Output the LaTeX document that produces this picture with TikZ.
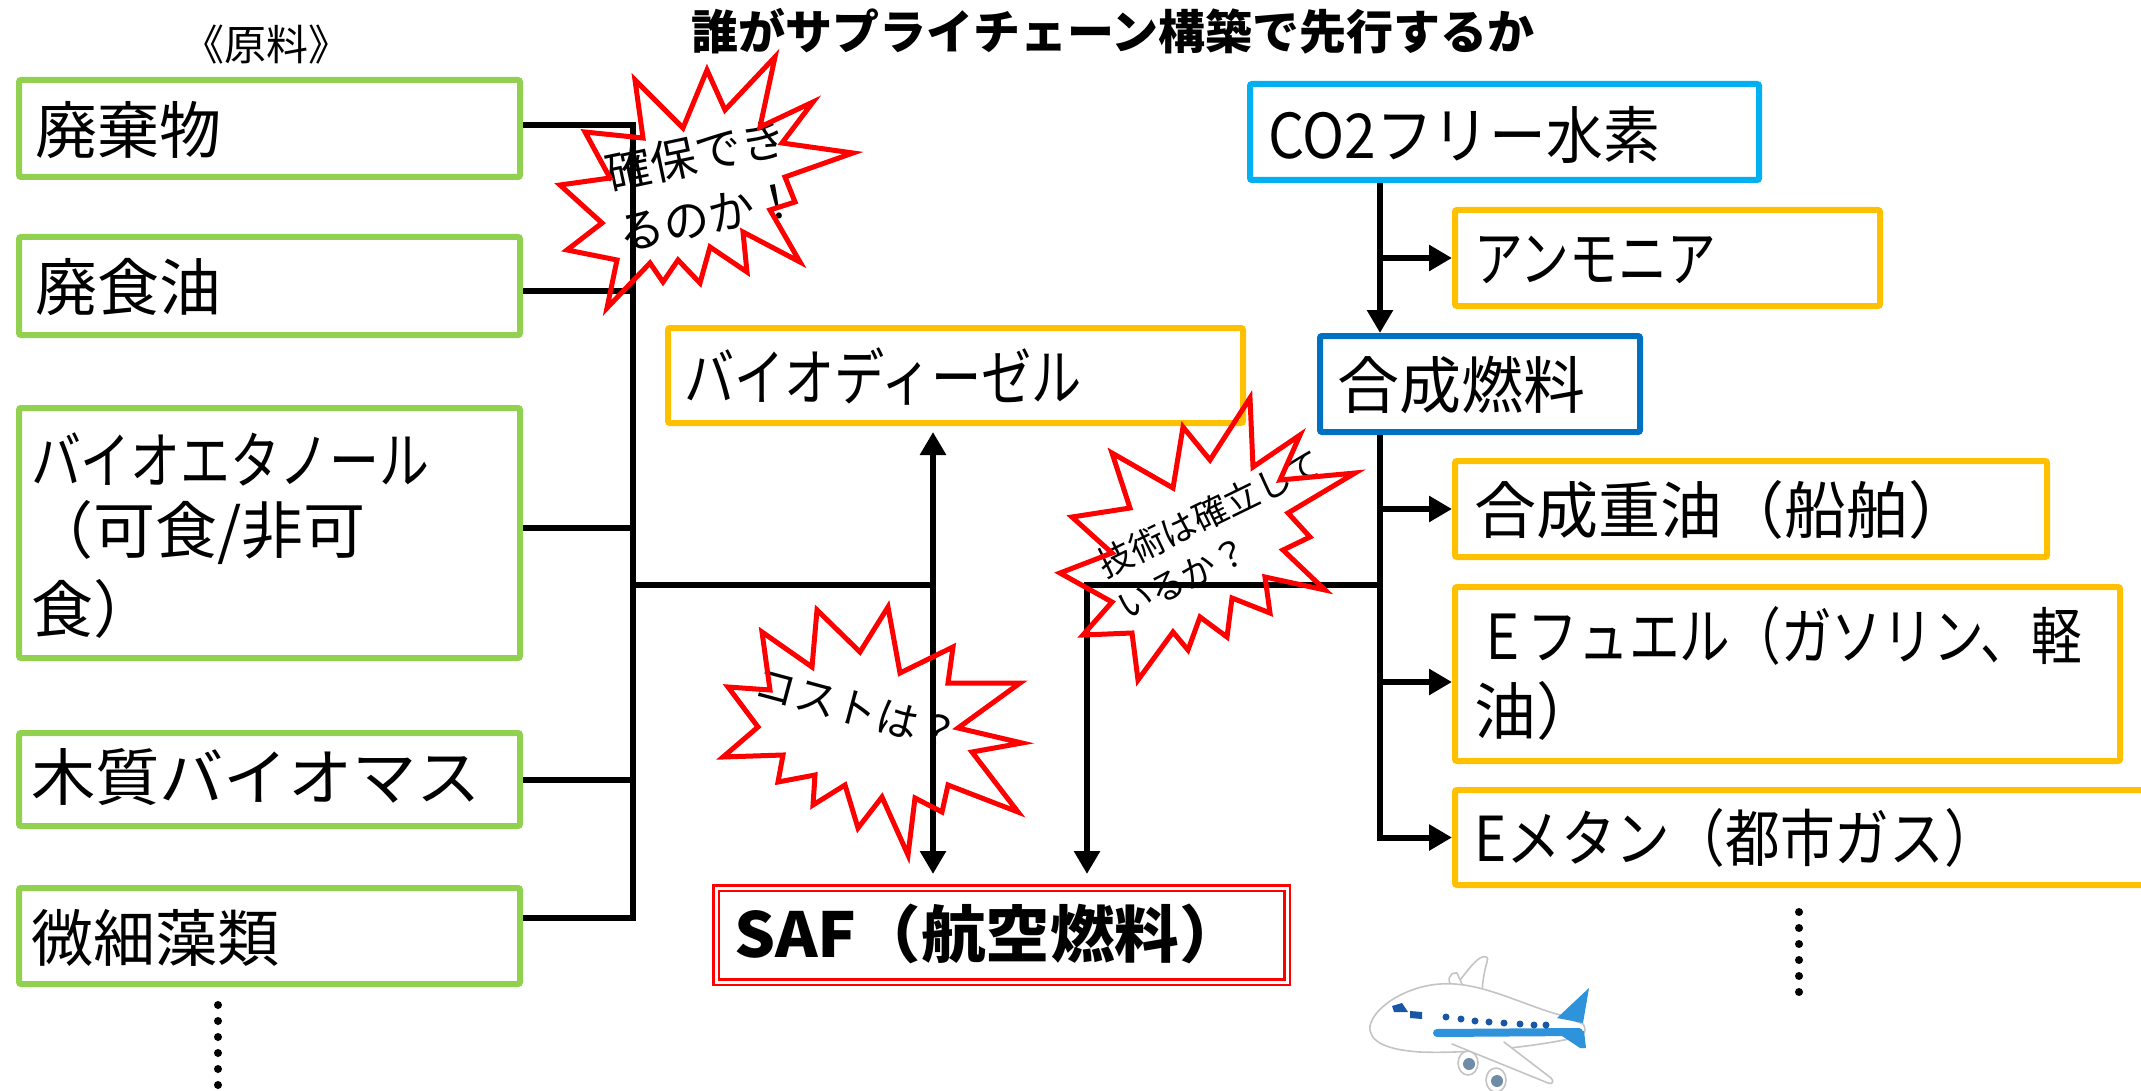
\documentclass[tikz,border=0pt]{standalone}
\usepackage{fontspec}
\usepackage{graphicx}
\setmainfont{Noto Sans CJK JP}
\usetikzlibrary{arrows.meta,calc}

\newcommand\fsz[1]{\fontsize{#1pt}{#1pt}\selectfont}
\newcommand\wfit[2]{\resizebox{#1pt}{\height}{#2}}

\definecolor{leaf}{HTML}{92D050}
\definecolor{amber}{HTML}{FFC000}
\definecolor{sky}{HTML}{00B0F0}
\definecolor{navy}{HTML}{0070C0}
\definecolor{alarm}{HTML}{FF0000}
\definecolor{jetblue}{HTML}{2E93DA}
\definecolor{jetdark}{HTML}{1A56A6}
\definecolor{jetgray}{HTML}{C4C4C4}
\definecolor{jeteng}{HTML}{6F8CA6}

\begin{document}
\begin{tikzpicture}[x=1pt,y=-1pt,
  panel/.style={draw=#1, line width=6pt, rounded corners=2pt, inner sep=0pt},
  lbl/.style={anchor=west, inner sep=0pt, outer sep=0pt},
  conn/.style={line width=6pt},
  arr/.style={line width=6pt, -{Triangle[length=23pt,width=25pt]}},
  dbl/.style={line width=6pt, {Triangle[length=23pt,width=25pt]}-{Triangle[length=23pt,width=25pt]}},
  burst/.style={draw=alarm, line width=5pt, line join=miter},
  dot/.style={fill=black}]

\useasboundingbox (0,0) rectangle (2141,1091);
\clip (0,0) rectangle (2141,1091);

% ---------- headings ----------
\node (title) at (1113,31) {\fsz{47}\bfseries 誰がサプライチェーン構築で先行するか};
\node (rawhead) at (266,45) {\fsz{42}《原料》};

% ---------- feedstock boxes ----------
\node[panel=leaf, minimum width=501pt, minimum height=97pt] (haiki) at (269.5,128.5) {};
\node[panel=leaf, minimum width=501pt, minimum height=98pt] (haishoku) at (269.5,286) {};
\node[panel=leaf, minimum width=501pt, minimum height=250pt] (bioeth) at (269.5,533) {};
\node[panel=leaf, minimum width=501pt, minimum height=93pt] (mokushitsu) at (269.5,779.5) {};
\node[panel=leaf, minimum width=501pt, minimum height=96pt] (sorui) at (269.5,936) {};

\node[lbl] (t-haiki) at (35,130) {\fsz{62}廃棄物};
\node[lbl] (t-haishoku) at (35,287) {\fsz{62}廃食油};
\node[lbl] (t-bioeth1) at (31,459) {\wfit{398}{\fsz{62}バイオエタノール}};
\node[lbl] (t-bioeth2) at (31,533) {\fsz{62}（可食/非可};
\node[lbl] (t-bioeth3) at (31,609) {\fsz{62}食）};
\node[lbl] (t-mokushitsu) at (31,777) {\wfit{450}{\fsz{62}木質バイオマス}};
\node[lbl] (t-sorui) at (31,938) {\fsz{62}微細藻類};

\foreach \k in {0,...,5} \fill[dot] (218,{1005+16*\k}) circle (4pt);

% ---------- middle boxes ----------
\node[panel=amber, minimum width=575pt, minimum height=95pt] (bdsl) at (955.5,375.5) {};
\node[lbl] (t-bdsl) at (684,377) {\wfit{398}{\fsz{62}バイオディーゼル}};

\node[draw=alarm, double=white, double distance=3pt, line width=2.5pt,
      minimum width=571pt, minimum height=94pt, inner sep=0pt] (saf) at (1001.5,935) {};
\node[lbl] (t-saf) at (734,934) {\wfit{510}{\fsz{62}\bfseries SAF（航空燃料）}};

% ---------- hydrogen side boxes ----------
\node[panel=sky, minimum width=509pt, minimum height=96pt] (h2) at (1504.5,132) {};
\node[panel=amber, minimum width=425pt, minimum height=96pt] (amm) at (1667.5,258) {};
\node[panel=navy, minimum width=320pt, minimum height=96pt] (gsn) at (1480,384) {};
\node[panel=amber, minimum width=592pt, minimum height=96pt] (gjy) at (1751,509) {};
\node[panel=amber, minimum width=665pt, minimum height=174pt] (efu) at (1787.5,674) {};
\node[panel=amber, minimum width=715pt, minimum height=95pt] (emt) at (1812.5,837.5) {};

\node[lbl] (t-h2) at (1268,135) {\wfit{392}{\fsz{62}CO2フリー水素}};
\node[lbl] (t-amm) at (1474,260) {\wfit{242}{\fsz{62}アンモニア}};
\node[lbl] (t-gsn) at (1337,385) {\fsz{62}合成燃料};
\node[lbl] (t-gjy) at (1474,510) {\fsz{62}合成重油（船舶）};
\node[lbl] (t-efu1) at (1477,636) {\wfit{605}{\fsz{62}Ｅフュエル（ガソリン、軽}};
\node[lbl] (t-efu2) at (1474,711) {\fsz{62}油）};
\node[lbl] (t-emt) at (1474,838) {\wfit{525}{\fsz{62}Eメタン（都市ガス）}};

\foreach \k in {0,...,5} \fill[dot] (1799,{912+16*\k}) circle (4pt);

% ---------- burst captions (under the connectors) ----------
\node[rotate=12, lbl] (q1a) at (606,174) {\fsz{46}確保でき};
\node[rotate=12, lbl] (q1b) at (619,235) {\fsz{46}るのか！};
\node[rotate=-15] (q2) at (857,709) {\fsz{42}コストは？};
\node[rotate=26, lbl] (q3a) at (1100,567) {\fsz{35}技術は確立して};
\node[rotate=26, lbl] (q3b) at (1120,609) {\fsz{35}いるか？};

% ---------- connectors ----------
\coordinate (j1) at (633,125);
\coordinate (j2) at (633,291);
\coordinate (j3) at (633,528);
\coordinate (j4) at (633,780);
\coordinate (j5) at (633,918);
\draw[conn] (haiki.east |- j1) -- (j1) -- (j5) -- (sorui.east |- j5);
\draw[conn] (haishoku.east |- j2) -- (j2);
\draw[conn] (bioeth.east |- j3) -- (j3);
\draw[conn] (mokushitsu.east |- j4) -- (j4);

\coordinate (lt) at (633,585);
\coordinate (a1) at (933,585);
\coordinate (rt) at (1380,585);
\coordinate (a2) at (1087,585);
\coordinate (s1) at (933,874);
\coordinate (s2) at (1087,874);

\draw[conn] (lt) -- (a1);
\draw[dbl] ($(bdsl.south -| a1)+(0,6)$) -- (s1);
\draw[arr] (rt) -- (a2) -- (s2);

\draw[arr] (h2.south -| rt) -- (gsn.north -| rt);
\draw[arr] (rt |- amm.west) -- (amm.west);
\draw[arr] (gsn.south -| rt) -- (rt |- emt.west) -- (emt.west);
\draw[arr] (rt |- gjy.west) -- (gjy.west);
\draw[arr] ($(rt |- efu.west)+(0,8)$) -- ($(efu.west)+(0,8)$);

% ---------- bursts ----------
\draw[burst] (635,80) -- (683,128) -- (707,70) -- (725,110) -- (775,57) -- (760,127)
  -- (813,102) -- (782,143) -- (853,153) -- (785,177) -- (795,202) -- (770,210)
  -- (800,262) -- (743,232) -- (747,272) -- (710,247) -- (700,283) -- (678,260)
  -- (663,282) -- (650,263) -- (607,308) -- (617,260) -- (567,250) -- (602,223)
  -- (560,185) -- (610,178) -- (585,132) -- (643,138) -- cycle;

\draw[burst] (762,632) -- (812,667) -- (817,610) -- (860,652) -- (888,607) -- (900,673)
  -- (953,647) -- (948,683) -- (1020,683) -- (958,728) -- (1022,743) -- (972,752)
  -- (1018,812) -- (948,785) -- (942,812) -- (915,798) -- (908,855) -- (882,797)
  -- (858,828) -- (845,785) -- (813,805) -- (815,775) -- (778,782) -- (783,755)
  -- (723,757) -- (758,727) -- (728,687) -- (770,690) -- cycle;

\draw[burst] (1112,453) -- (1173,488) -- (1183,427) -- (1210,460) -- (1250,398) -- (1253,467)
  -- (1300,435) -- (1280,480) -- (1355,473) -- (1288,513) -- (1310,537) -- (1283,550)
  -- (1325,590) -- (1265,577) -- (1270,613) -- (1232,598) -- (1227,637) -- (1200,617)
  -- (1188,650) -- (1173,632) -- (1138,680) -- (1132,633) -- (1083,635) -- (1112,602)
  -- (1060,573) -- (1112,553) -- (1072,517) -- (1130,508) -- cycle;

% ---------- airliner ----------
\begin{scope}[line width=1.6pt, line join=round, line cap=round]
  % far wing and its fin
  \filldraw[draw=jetgray, fill=white] (1453,988) .. controls (1465,975) and (1472,963) .. (1480,958)
    .. controls (1486,955) and (1489,957) .. (1487,962) .. controls (1484,972) and (1482,985) .. (1482,996) -- cycle;
  \filldraw[draw=jetgray, fill=white] (1453,987) .. controls (1446,981) and (1449,972) .. (1457,973) -- (1462,984);
  % fuselage
  \filldraw[draw=jetgray, fill=white] (1370,1026) .. controls (1374,1006) and (1408,986) .. (1440,984)
    .. controls (1480,981) and (1520,1004) .. (1560,1015) -- (1583,1024)
    .. controls (1587,1030) and (1585,1035) .. (1578,1037)
    .. controls (1540,1046) and (1470,1054) .. (1420,1052)
    .. controls (1388,1050) and (1368,1042) .. (1370,1026) -- cycle;
  % tail, stripe, stabiliser
  \fill[jetblue] (1557,1018) -- (1589,988) -- (1583,1023) -- cycle;
  \draw[jetblue, line width=8pt] (1437,1033) -- (1579,1032);
  \fill[jetblue] (1562,1036) -- (1584,1031) -- (1586,1048) -- (1580,1048) -- cycle;
  % windows
  \fill[jetdark] (1392,1006) -- (1402,1003) -- (1408,1012) -- (1394,1012) -- cycle;
  \fill[jetdark] (1410,1011) -- (1422,1012) -- (1422,1019) -- (1410,1018) -- cycle;
  \foreach \wx/\wy in {1446/1017,1461/1019,1475/1021,1489/1022,1504/1023,1520/1024,1534/1025,1546/1025}
    \fill[jetdark] (\wx,\wy) circle (3.5pt);
  % engines
  \filldraw[draw=jetgray, fill=white] (1468,1063) ellipse (10pt and 12pt);
  \fill[jeteng] (1469,1064) circle (6pt);
  \filldraw[draw=jetgray, fill=white] (1496,1080) ellipse (10pt and 12pt);
  \fill[jeteng] (1497,1081) circle (6pt);
  % near wing
  \filldraw[draw=jetgray, fill=white] (1452,1044) -- (1548,1083)
    .. controls (1553,1085) and (1554,1081) .. (1551,1078) -- (1504,1042);
\end{scope}

\end{tikzpicture}
\end{document}
